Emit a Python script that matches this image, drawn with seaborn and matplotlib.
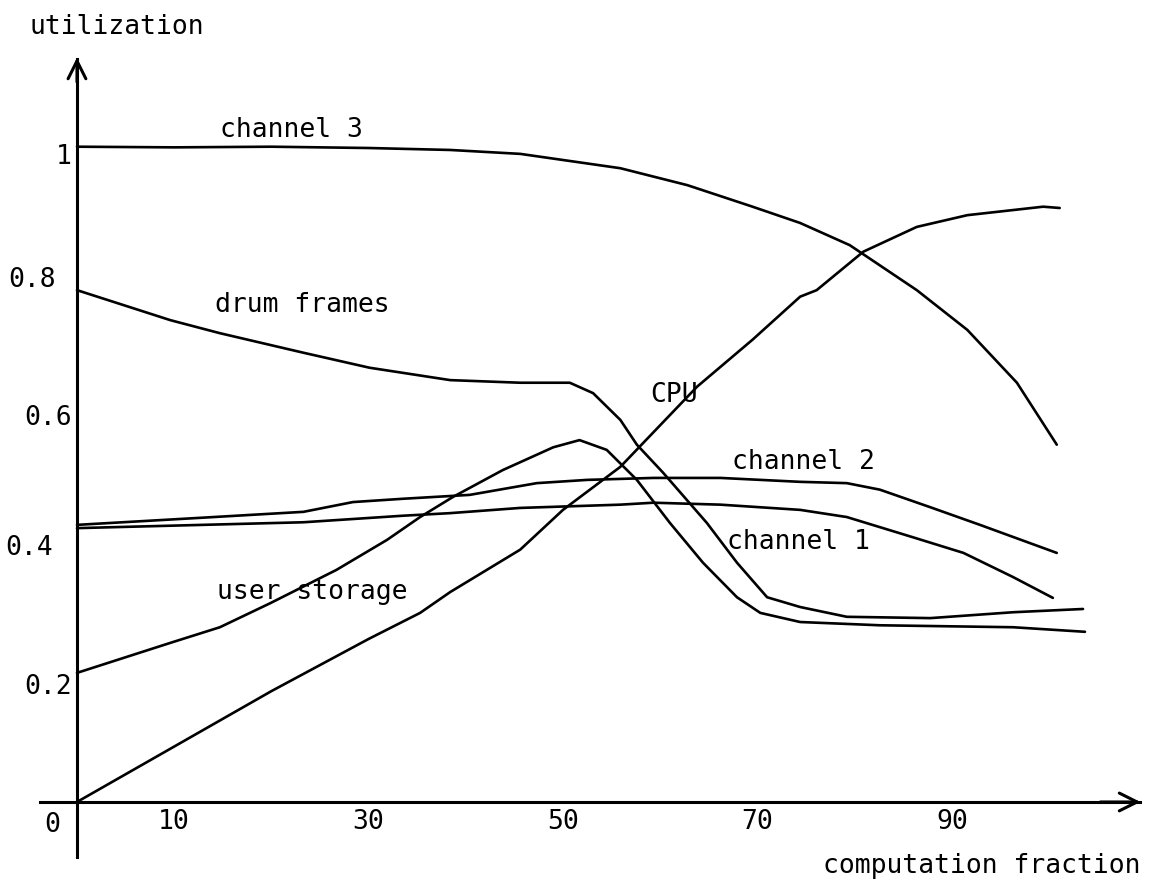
import pandas as pd
import seaborn as sns
import matplotlib.pyplot as plt

# curves (computation fraction, utilization)
ch3_x = [0, 10, 20, 30, 38.4, 45.6, 55.9, 62.8, 69.5, 74.4, 79.5, 86.4, 91.6, 96.7, 100.8]
ch3_y = [1.005, 1.004, 1.005, 1.003, 1.0, 0.994, 0.972, 0.946, 0.913, 0.888, 0.854, 0.785, 0.724, 0.643, 0.548]

cpu_x = [0, 10, 20, 30, 35.3, 38.4, 45.6, 50.0, 55.9, 63.8, 69.5, 74.4, 76.1, 80.9, 86.4, 91.6, 99.4, 101.1]
cpu_y = [0, 0.085, 0.17, 0.25, 0.29, 0.322, 0.387, 0.448, 0.514, 0.637, 0.709, 0.775, 0.785, 0.844, 0.882, 0.9, 0.913, 0.911]

drum_x = [0, 9.6, 14.7, 23.3, 30.1, 38.4, 45.6, 50.7, 53.1, 55.9, 57.6, 60.3, 64.8, 67.9, 71.0, 74.4, 79.2, 87.8, 96.3, 103.5]
drum_y = [0.785, 0.739, 0.719, 0.689, 0.666, 0.647, 0.643, 0.643, 0.627, 0.586, 0.548, 0.505, 0.428, 0.367, 0.314, 0.299, 0.284, 0.282, 0.291, 0.296]

user_x = [0, 9.6, 14.7, 19.9, 26.7, 31.9, 35.3, 38.7, 43.8, 49.0, 51.7, 54.5, 57.6, 61.0, 64.4, 67.9, 70.3, 74.4, 82.6, 96.3, 103.7]
user_y = [0.198, 0.244, 0.268, 0.305, 0.356, 0.402, 0.437, 0.468, 0.509, 0.544, 0.555, 0.54, 0.494, 0.428, 0.367, 0.314, 0.29, 0.276, 0.271, 0.268, 0.261]

ch2_x = [0, 12.9, 23.3, 28.4, 33.5, 40.4, 47.3, 52.5, 59.3, 66.2, 74.4, 79.2, 82.6, 87.8, 92.9, 100.8]
ch2_y = [0.425, 0.436, 0.445, 0.46, 0.465, 0.471, 0.489, 0.494, 0.497, 0.497, 0.491, 0.489, 0.479, 0.452, 0.425, 0.382]

ch1_x = [0, 12.9, 23.3, 33.5, 38.4, 45.6, 55.9, 59.3, 66.2, 74.4, 79.2, 86.0, 91.2, 96.3, 100.4]
ch1_y = [0.42, 0.425, 0.429, 0.439, 0.443, 0.451, 0.456, 0.459, 0.456, 0.448, 0.437, 0.406, 0.382, 0.345, 0.313]

x_ticks = [10, 30, 50, 70, 90, 100]
x_tick_labels = ['10', '30', '50', '70', '90', '']
y_ticks = [0.2, 0.4, 0.6, 0.8, 1.0]
y_tick_labels = ['0.2', '0.4', '0.6', '0.8', '1']

curves = {
    'channel 3': (ch3_x, ch3_y),
    'CPU': (cpu_x, cpu_y),
    'drum frames': (drum_x, drum_y),
    'user storage': (user_x, user_y),
    'channel 2': (ch2_x, ch2_y),
    'channel 1': (ch1_x, ch1_y),
}
df = pd.concat([pd.DataFrame({'x': xs, 'y': ys, 'curve': name})
                for name, (xs, ys) in curves.items()], ignore_index=True)

sns.set_style('white')
plt.rcParams['font.family'] = ['DejaVu Sans Mono']
plt.rcParams['text.color'] = 'black'
FS = 19

fig = plt.figure(figsize=(11.53, 8.84), dpi=100)
ax = fig.add_axes([0, 0, 1, 1])
ax.set_xlim(-7.92, 110.7)
ax.set_ylim(-0.1258, 1.230)

sns.lineplot(data=df, x='x', y='y', units='curve', estimator=None, sort=False,
             color='black', lw=1.9, ax=ax, legend=False)

# axes drawn through the origin, with open arrow heads
for side in ['top', 'right']:
    ax.spines[side].set_visible(False)
ax.spines['left'].set_position(('data', 0))
ax.spines['bottom'].set_position(('data', 0))
ax.spines['left'].set_bounds(-0.084, 1.14)
ax.spines['bottom'].set_bounds(-3.8, 109.4)
for side in ['left', 'bottom']:
    ax.spines[side].set_linewidth(2.2)
    ax.spines[side].set_color('black')
ax.annotate('', xy=(0, 1.146), xytext=(0, 1.10),
            arrowprops=dict(arrowstyle='->', lw=2.2, color='black', mutation_scale=32))
ax.annotate('', xy=(109.7, 0), xytext=(105, 0),
            arrowprops=dict(arrowstyle='->', lw=2.2, color='black', mutation_scale=32))

ax.set_xticks(x_ticks, x_tick_labels)
ax.set_yticks(y_ticks)
ax.tick_params(direction='in', length=9, width=1.8, labelsize=FS, colors='black')
ax.tick_params(axis='x', pad=5)
ax.tick_params(axis='y', labelleft=False)
ax.set_xlabel('')
ax.set_ylabel('')

# typed y labels sit a little unevenly next to the axis
y_label_shift = [(-4, -11), (-17, -5), (-4, -5), (-15, 0), (-4, -5)]
for val, lab, off in zip(y_ticks, y_tick_labels, y_label_shift):
    ax.annotate(lab, xy=(0, val), xytext=off, textcoords='offset points',
                ha='right', va='center', fontsize=FS)
ax.text(-2.5, -0.015, '0', ha='center', va='top', fontsize=FS)

ax.text(-4.84, 1.189, 'utilization', ha='left', va='center', fontsize=FS)
ax.text(109.4, -0.098, 'computation fraction', ha='right', va='center', fontsize=FS)

# curve labels
ax.text(14.7, 1.031, 'channel 3', va='center', fontsize=FS)
ax.text(14.2, 0.762, 'drum frames', va='center', fontsize=FS)
ax.text(59.0, 0.624, 'CPU', va='center', fontsize=FS)
ax.text(67.4, 0.521, 'channel 2', va='center', fontsize=FS)
ax.text(66.9, 0.399, 'channel 1', va='center', fontsize=FS)
ax.text(14.4, 0.322, 'user storage', va='center', fontsize=FS)

fig.savefig('out.png', dpi=100)
